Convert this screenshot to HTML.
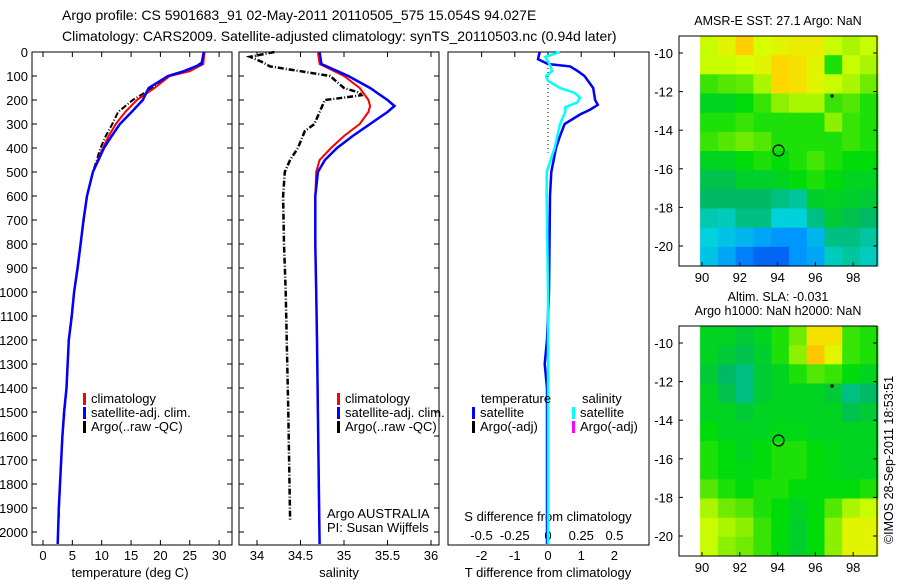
<!DOCTYPE html>
<html><head><meta charset="utf-8">
<style>
html,body{margin:0;padding:0;background:#fff;}
svg{display:block;font-family:"Liberation Sans",sans-serif;}
text{font-size:13px;fill:#000;}
</style></head>
<body>
<svg id="fig" width="900" height="580" viewBox="0 0 900 580" xmlns="http://www.w3.org/2000/svg">
<text x="62" y="20" style="font-size:14px">Argo profile: CS 5901683_91 02-May-2011 20110505_575 15.054S 94.027E</text>
<text x="62" y="41" style="font-size:14px">Climatology: CARS2009. Satellite-adjusted climatology: synTS_20110503.nc (0.94d later)</text>
<g id="g"></g>
</svg>
<script>
// ---- data ----
const depthsT = [0,50,80,100,150,200,250,300,350,400,500,600,700,800,900,1000,1100,1200,1400,1500,1600,1700,1800,1900,2050];
const tempClim = [27.5,27.3,25,21.6,19,16,14,12.4,11.2,10.2,8.5,7.5,6.9,6.4,5.9,5.3,4.9,4.4,4.0,3.6,3.3,3.1,2.9,2.7,2.5];
const tempSat  = [27.4,27.0,24,21.3,18,17,15.1,13.1,11.7,10.4,8.5,7.5,6.9,6.4,5.9,5.3,4.9,4.4,4.0,3.6,3.3,3.1,2.9,2.7,2.5];
const depthsArgoT = [0,40,60,80,100,150,200,250,300,350,400,500,600,800,1000,1200,1400,1600,1800,1980];
const tempArgo = [27.5,27.3,26,24,21.5,18.6,15.3,12.8,11.8,10.7,9.8,8.5,7.5,6.4,5.3,4.4,4.0,3.3,2.9,2.6];
const depthsS = [0,50,100,150,200,225,250,300,350,400,450,500,600,800,1000,1200,1500,1800,2050];
const salClim = [34.7,34.72,35.0,35.18,35.28,35.3,35.28,35.18,35.0,34.85,34.72,34.68,34.67,34.67,34.68,34.69,34.7,34.71,34.72];
const salSat  = [34.72,34.74,35.05,35.3,35.5,35.58,35.5,35.3,35.1,34.92,34.78,34.7,34.67,34.67,34.68,34.69,34.7,34.71,34.72];
const depthsArgoS = [0,20,40,60,80,100,150,170,180,190,200,250,300,330,400,450,500,600,800,1000,1500,1950];
const salArgo = [34.2,33.92,34.05,34.15,34.5,34.84,35.0,35.18,35.2,35.0,34.78,34.72,34.66,34.55,34.47,34.38,34.32,34.3,34.31,34.33,34.36,34.38];
const depthsD = [0,30,50,60,80,100,150,200,220,240,260,300,350,400,500,600,1000,1200,1300,1400,2050];
const tDiffSat = [-0.25,-0.3,0,0.67,0.9,1.1,1.36,1.42,1.5,1.27,0.97,0.5,0.36,0.24,0.1,0.06,0.03,-0.03,-0.1,-0.03,-0.03];
const depthsDS = [0,20,40,60,80,100,120,150,170,190,210,230,250,300,400,500,600,1000,2050];
const sDiffSat = [0.09,-0.02,0,0.02,0.03,-0.015,0,0.09,0.2,0.24,0.22,0.13,0.13,0.09,0.05,-0.01,-0.01,0,0];
const tTicks = [0,5,10,15,20,25,30];
const sTicks = [34,34.5,35,35.5,36];
const sTickLabels = ["34","34.5","35","35.5","36"];
const dTTicks = [-2,-1,0,1,2];
const dSTicks = [-0.5,-0.25,0,0.25,0.5];
const depthTicks = [0,100,200,300,400,500,600,700,800,900,1000,1100,1200,1300,1400,1500,1600,1700,1800,1900,2000];
const lonTicks = [90,92,94,96,98];
const latTicks = [-10,-12,-14,-16,-18,-20];
// SST map (rows lat -9 -> -21, cols lon 89.9 -> 99.3)
const sstGrid = [
[.72,.74,.78,.73,.74,.75,.75,.72,.7,.72],
[.72,.72,.73,.74,.77,.76,.74,.6,.72,.7],
[.62,.64,.65,.7,.77,.76,.74,.72,.7,.66],
[.56,.56,.58,.62,.68,.7,.7,.62,.64,.6],
[.6,.6,.62,.6,.6,.6,.6,.68,.62,.6],
[.62,.64,.66,.64,.6,.6,.6,.6,.62,.6],
[.56,.56,.58,.6,.58,.6,.63,.6,.58,.58],
[.52,.52,.55,.55,.56,.58,.6,.58,.56,.56],
[.5,.5,.5,.5,.48,.46,.55,.56,.55,.54],
[.45,.44,.48,.48,.42,.42,.48,.54,.52,.5],
[.42,.4,.38,.36,.34,.34,.38,.48,.48,.46],
[.4,.36,.32,.3,.3,.34,.36,.44,.46,.44]];
const slaGrid = [
[.56,.56,.54,.56,.6,.66,.76,.76,.62,.6],
[.56,.54,.52,.55,.6,.68,.79,.74,.62,.6],
[.54,.5,.48,.54,.56,.6,.64,.62,.58,.56],
[.56,.52,.48,.54,.56,.56,.56,.54,.48,.5],
[.56,.56,.54,.56,.56,.56,.56,.56,.52,.54],
[.58,.56,.56,.56,.57,.57,.56,.56,.56,.56],
[.6,.58,.56,.58,.6,.6,.58,.57,.56,.56],
[.6,.58,.57,.58,.6,.6,.58,.57,.56,.56],
[.64,.6,.58,.6,.6,.58,.58,.58,.58,.6],
[.7,.66,.64,.6,.58,.56,.58,.64,.7,.72],
[.72,.7,.68,.62,.58,.55,.58,.68,.74,.74],
[.72,.68,.66,.62,.58,.55,.58,.68,.74,.74]];
const argoLon = [94.05];
const argoLat = [-15.05];

// ---- helpers ----
const NS="http://www.w3.org/2000/svg";
const G=document.getElementById('g');
function mk(tag,attrs,parent){const e=document.createElementNS(NS,tag);for(const k in attrs)e.setAttribute(k,attrs[k]);(parent||G).appendChild(e);return e;}
const TOP=52, BOT=545;
const yD = d => TOP + d*0.24;
function line(xs,ys,sx,col,w,dash,name){
  const pts=xs.map((v,i)=>sx(v).toFixed(1)+','+yD(ys[i]).toFixed(1)).join(' ');
  const p=mk('polyline',{points:pts,fill:'none',stroke:col,'stroke-width':w});
  if(dash)p.setAttribute('stroke-dasharray',dash);
  
  
}
function panel(x0,x1,name){
  const r=mk('rect',{x:x0,y:TOP,width:x1-x0,height:BOT-TOP,fill:'none',stroke:'#000','stroke-width':1});
  
  
  depthTicks.forEach(d=>{mk('line',{x1:x0,x2:x0+5,y1:yD(d),y2:yD(d),stroke:'#000'});mk('line',{x1:x1-5,x2:x1,y1:yD(d),y2:yD(d),stroke:'#000'});});
}
function xticks(vals,labels,sx,ylab,name,top){
  vals.forEach((v,i)=>{
    const x=sx(v);
    mk('line',{x1:x,x2:x,y1:BOT-5,y2:BOT,stroke:'#000'});
    if(top)mk('line',{x1:x,x2:x,y1:TOP,y2:TOP+5,stroke:'#000'});
    const t=mk('text',{x:x,y:ylab,'text-anchor':'middle'});t.textContent=labels[i];
    
    
  });
}
function txt(x,y,s,name,anchor,size){const t=mk('text',{x:x,y:y,'text-anchor':anchor||'start'});if(size)t.style.fontSize=size+'px';t.textContent=s;return t;}
function leg(x,y,col,s,name){mk('rect',{x:x,y:y-10,width:3,height:12,fill:col});txt(x+8,y,s,name);}

// ---- panel 1: temperature ----
const sxT = t => 43 + t*5.87;
panel(32,232,'temperature-panel');
depthTicks.forEach(d=>txt(28,yD(d)+5,String(d),'depth-tick-label','end'));
xticks(tTicks,tTicks.map(String),sxT,560,'temperature-tick-label',true);
txt(130,577,'temperature (deg C)','temperature-axis-title','middle');
line(tempArgo,depthsArgoT,sxT,'#000',2,'6,2,1,2','argo-temperature-line');
line(tempClim,depthsT,sxT,'#f00',2,null,'climatology-temperature-line');
line(tempSat,depthsT,sxT,'#00f',2.5,null,'satellite-temperature-line');
leg(83,403,'#f00','climatology','legend-climatology');
leg(83,417,'#00f','satellite-adj. clim.','legend-satellite');
leg(83,431,'#000','Argo(..raw -QC)','legend-argo');

// ---- panel 2: salinity ----
const sxS = s => 257 + (s-34)*87;
panel(239,439,'salinity-panel');
xticks(sTicks,sTickLabels,sxS,560,'salinity-tick-label',true);
txt(339,577,'salinity','salinity-axis-title','middle');
line(salArgo,depthsArgoS,sxS,'#000',2.5,'6,2,1,2','argo-salinity-line');
line(salClim,depthsS,sxS,'#f00',2,null,'climatology-salinity-line');
line(salSat,depthsS,sxS,'#00f',2.5,null,'satellite-salinity-line');
leg(337,403,'#f00','climatology','legend-climatology-2');
leg(337,417,'#00f','satellite-adj. clim.','legend-satellite-2');
leg(337,431,'#000','Argo(..raw -QC)','legend-argo-2');
txt(327,518,'Argo AUSTRALIA','argo-australia-label');
txt(327,532,'PI: Susan Wijffels','pi-label');

// ---- panel 3: differences ----
const sxDT = v => 548 + v*33.2;
const sxDS = v => 548 + v*133;
const r3=mk('rect',{x:448,y:TOP,width:201,height:BOT-TOP,fill:'none',stroke:'#000'});


dTTicks.forEach(v=>{mk('line',{x1:sxDT(v),x2:sxDT(v),y1:TOP,y2:TOP+5,stroke:'#000'});});
mk('line',{x1:548,x2:548,y1:TOP,y2:yD(420),stroke:'#000','stroke-dasharray':'1,3'});
dTTicks.forEach(v=>txt(sxDT(v),560,String(v),'t-diff-tick-label','middle'));
dSTicks.forEach(v=>txt(sxDS(v),540,String(v),'s-diff-tick-label','middle'));
txt(548,521,'S difference from climatology','s-diff-axis-title','middle');
txt(548,577,'T difference from climatology','t-diff-axis-title','middle');
line(tDiffSat,depthsD,sxDT,'#00f',2.5,null,'t-diff-satellite-line');
line(sDiffSat,depthsDS,sxDS,'#0ff',2.5,null,'s-diff-satellite-line');
txt(481,403,'temperature','legend-temperature-header');
leg(472,417,'#00f','satellite','legend-t-satellite');
leg(472,431,'#000','Argo(-adj)','legend-t-argo');
txt(582,403,'salinity','legend-salinity-header');
leg(572,417,'#0ff','satellite','legend-s-satellite');
leg(572,431,'#f0f','Argo(-adj)','legend-s-argo');

// ---- maps ----
const stops=[[0.28,[0,80,240]],[0.34,[0,150,255]],[0.42,[0,210,220]],[0.5,[0,185,100]],[0.58,[0,220,10]],[0.66,[110,235,0]],[0.73,[215,255,0]],[0.77,[255,215,0]],[0.82,[255,170,0]]];
function cmap(v){
  if(v<=stops[0][0])return 'rgb('+stops[0][1]+')';
  for(let i=1;i<stops.length;i++){if(v<=stops[i][0]){const a=stops[i-1],b=stops[i],f=(v-a[0])/(b[0]-a[0]);return 'rgb('+a[1].map((c,k)=>Math.round(c+(b[1][k]-c)*f)).join(',')+')';}}
  return 'rgb('+stops[stops.length-1][1]+')';
}
function map(top,grid,name,titles){
  const bx0=679,bx1=877,by0=top,by1=top+230;
  const sx=lon=>702+(lon-90)*18.9;
  const sy=lat=>by0+17+(-10-lat)*19.3;
  const lon0=89.9,lon1=99.3,lat0=-9.1,lat1=-21.0;
  const nr=grid.length,nc=grid[0].length;
  const cw=(sx(lon1)-sx(lon0))/nc, ch=(by1-by0)/nr;
  const g=mk('g',{});
  
  
  grid.forEach((row,i)=>row.forEach((v,j)=>{
    const c=mk('rect',{x:(sx(lon0)+j*cw).toFixed(1),y:(by0+i*ch).toFixed(1),width:(cw+0.6).toFixed(1),height:(ch+0.6).toFixed(1),fill:cmap(v)},g);
    
    
  }));
  mk('rect',{x:bx0,y:by0,width:bx1-bx0,height:by1-by0,fill:'none',stroke:'#000'});
  lonTicks.forEach(l=>{const x=sx(l);mk('line',{x1:x,x2:x,y1:by1-4,y2:by1,stroke:'#000'});txt(x,by1+16,String(l),'lon-tick-label','middle');});
  latTicks.forEach(l=>{const y=sy(l);mk('line',{x1:bx0,x2:bx0+4,y1:y,y2:y,stroke:'#000'});mk('line',{x1:bx1-4,x2:bx1,y1:y,y2:y,stroke:'#000'});txt(673,y+5,String(l),'lat-tick-label','end');});
  argoLon.forEach((lo,i)=>{const c=mk('circle',{cx:sx(lo),cy:sy(argoLat[i]),r:5.5,fill:'none',stroke:'#000','stroke-width':1.2});});
  mk('rect',{x:sx(96.8),y:sy(-12.2)-1,width:3,height:3,fill:'#000'});
  titles.forEach((t,i)=>txt(778,top-11-(titles.length-1-i)*14,t,'map-title','middle',12.5));
}
map(36,sstGrid,'sst-map',['AMSR-E SST: 27.1 Argo: NaN']);
map(326,slaGrid,'sla-map',['Altim. SLA: -0.031','Argo h1000: NaN h2000: NaN']);
const cp=txt(0,0,'©IMOS 28-Sep-2011 18:53:51','copyright-timestamp','middle',12.5);
cp.setAttribute('transform','translate(893,460) rotate(-90)');
</script>
</body></html>
